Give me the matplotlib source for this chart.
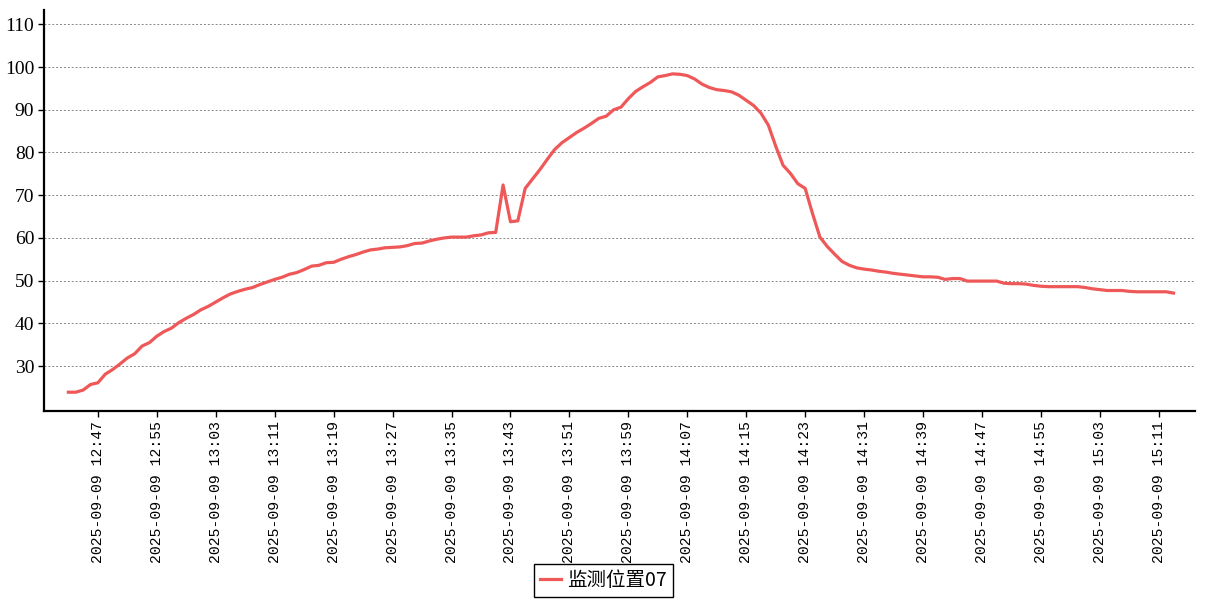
import matplotlib
matplotlib.use("Agg")
import matplotlib.pyplot as plt
import pandas as pd

# one reading per minute, 12:43 -> 15:13
start_time = "2025-09-09 12:43"
values = [
    23.9, 23.9, 24.4, 25.7, 26.1, 28.1, 29.2, 30.5, 31.9, 32.9,
    34.7, 35.5, 37.0, 38.1, 38.9, 40.2, 41.2, 42.1, 43.2, 44.0,
    45.0, 46.0, 46.9, 47.5, 48.0, 48.4, 49.1, 49.7, 50.3, 50.8,
    51.5, 51.9, 52.6, 53.4, 53.6, 54.2, 54.3, 55.0, 55.6, 56.1,
    56.7, 57.2, 57.4, 57.7, 57.8, 57.9, 58.2, 58.7, 58.8, 59.3,
    59.7, 60.0, 60.2, 60.2, 60.2, 60.5, 60.7, 61.2, 61.3, 72.4,
    63.8, 64.0, 71.6, 73.8, 76.0, 78.4, 80.7, 82.3, 83.5, 84.7,
    85.7, 86.8, 88.0, 88.5, 90.0, 90.6, 92.6, 94.3, 95.4, 96.4,
    97.7, 98.0, 98.4, 98.3, 98.0, 97.2, 96.0, 95.2, 94.7, 94.5,
    94.2, 93.4, 92.2, 91.0, 89.2, 86.4, 81.5, 77.0, 75.1, 72.7,
    71.6, 65.7, 60.2, 58.0, 56.2, 54.5, 53.6, 53.0, 52.7, 52.5,
    52.2, 52.0, 51.7, 51.5, 51.3, 51.1, 50.9, 50.9, 50.8, 50.3,
    50.5, 50.5, 49.9, 49.9, 49.9, 49.9, 49.9, 49.4, 49.3, 49.3,
    49.2, 48.9, 48.7, 48.6, 48.6, 48.6, 48.6, 48.6, 48.4, 48.1,
    47.9, 47.7, 47.7, 47.7, 47.5, 47.4, 47.4, 47.4, 47.4, 47.4,
    47.1,
]
series_name = "监测位置07"
tick_times = ["12:47", "12:55", "13:03", "13:11", "13:19", "13:27", "13:35",
              "13:43", "13:51", "13:59", "14:07", "14:15", "14:23", "14:31",
              "14:39", "14:47", "14:55", "15:03", "15:11"]
y_ticks = [30, 40, 50, 60, 70, 80, 90, 100, 110]

times = pd.date_range(start_time, periods=len(values), freq="min")
ticks = pd.to_datetime(["2025-09-09 " + t for t in tick_times])

fig = plt.figure(figsize=(12.07, 6.0), dpi=100)
ax = fig.add_axes([0.0365, 0.315, 0.9535, 0.668])

ax.plot(times, values, color="#ef5858", linewidth=2.3, label=series_name)

minute = pd.Timedelta(minutes=1)
ax.set_xlim(times[0] - 3.3 * minute, times[0] + 152.9 * minute)
ax.set_ylim(19.5, 113.3)

ax.set_yticks(y_ticks)
ax.set_yticklabels([str(v) for v in y_ticks], fontfamily="Liberation Serif", fontsize=14)
ax.set_xticks(ticks)
ax.set_xticklabels(["2025-09-09 " + t for t in tick_times], rotation=90,
                   fontfamily="Liberation Mono", fontsize=10.6)

ax.grid(axis="y", linestyle=(0, (2, 2)), color="#888888", linewidth=0.7)
ax.set_axisbelow(True)
for side in ["top", "right"]:
    ax.spines[side].set_visible(False)
ax.spines["left"].set_linewidth(1.6)
ax.spines["bottom"].set_linewidth(1.6)
ax.tick_params(axis="both", direction="out", length=4, width=1, colors="black", pad=3)

leg = fig.legend(loc="center", bbox_to_anchor=(0.5, 0.033), frameon=True,
                 fancybox=False, edgecolor="black", framealpha=1,
                 handlelength=1.1, handletextpad=0.3, borderpad=0.3,
                 prop={"family": ["Noto Sans CJK SC", "DejaVu Sans"], "size": 14})
leg.get_frame().set_linewidth(1.0)

fig.savefig("out.png", dpi=100)
